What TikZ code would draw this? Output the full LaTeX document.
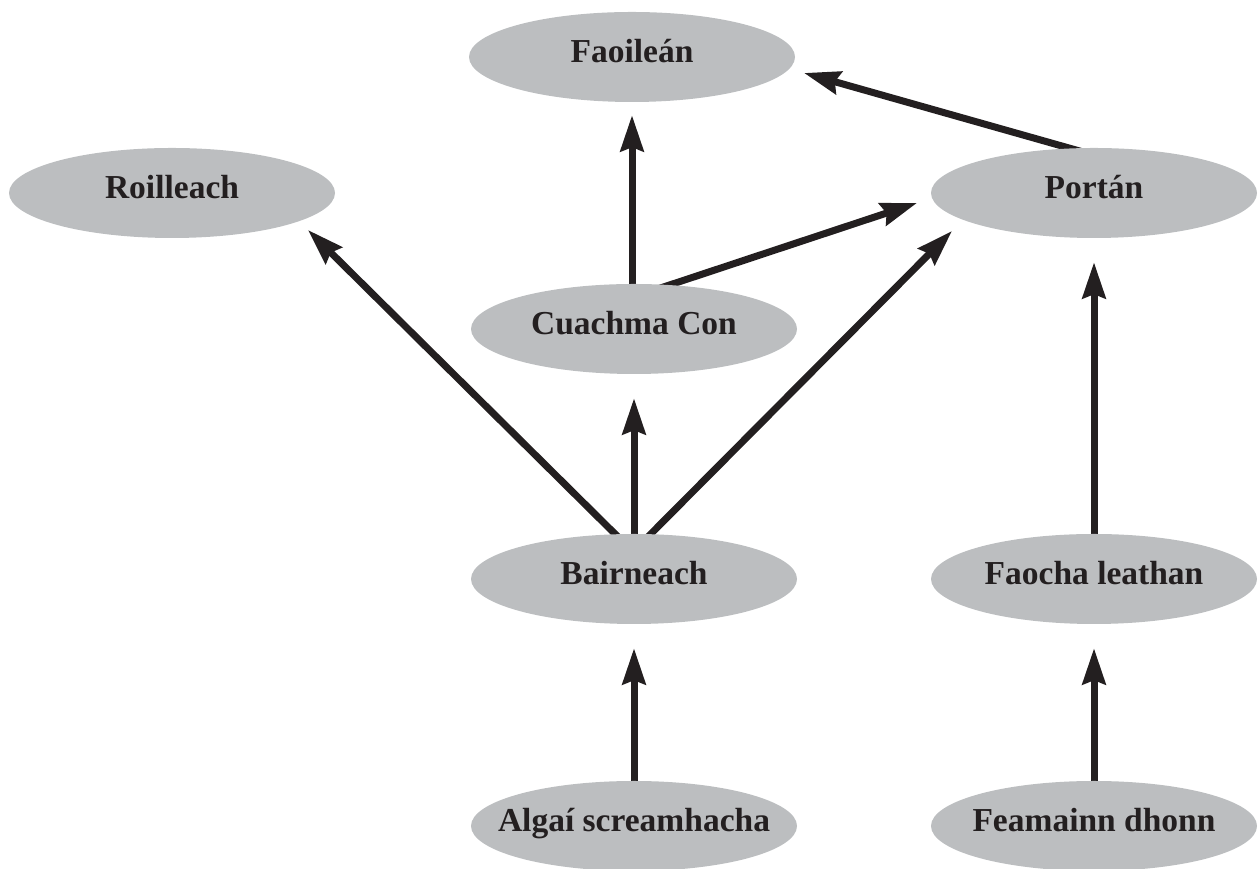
\documentclass[tikz,border=0pt]{standalone}
\usepackage{fontspec}
\setmainfont{Liberation Serif}
\usetikzlibrary{shapes.geometric,arrows.meta,backgrounds}
\definecolor{ellgray}{HTML}{BCBEC0}
\definecolor{ink}{HTML}{231F20}
\tikzset{
  ell/.style={ellipse, fill=ellgray, draw=none, minimum width=326pt, minimum height=90pt, inner sep=0pt},
  txt/.style={anchor=base, text=ink, font=\fontsize{33.5}{36}\selectfont\bfseries, inner sep=0pt},
  arr/.style={draw=ink, line width=7pt, -{Stealth[length=36pt,width=23pt,inset=4pt]}}
}
\begin{document}
\begin{tikzpicture}[x=1pt,y=1pt]
\useasboundingbox (0,0) rectangle (1259,869);
% ellipses
\node[ell] (fa) at (632,812) {};
\node[ell] (ro) at (172,676) {};
\node[ell] (po) at (1094,676) {};
\node[ell] (cc) at (634,540) {};
\node[ell] (ba) at (634,290) {};
\node[ell] (fl) at (1094,290) {};
\node[ell] (al) at (634,43) {};
\node[ell] (fd) at (1094,43) {};
% texts
\node[txt] (fa-t) at ([yshift=-6pt]fa.center) {Faoileán};
\node[txt] (ro-t) at ([yshift=-6pt]ro.center) {Roilleach};
\node[txt] (po-t) at ([yshift=-6pt]po.center) {Portán};
\node[txt] (cc-t) at ([yshift=-6pt]cc.center) {Cuachma Con};
\node[txt] (ba-t) at ([yshift=-6pt]ba.center) {Bairneach};
\node[txt] (fl-t) at ([yshift=-6pt]fl.center) {Faocha leathan};
\node[txt] (al-t) at ([yshift=-6pt]al.center) {Algaí screamhacha};
\node[txt] (fd-t) at ([yshift=-6pt]fd.center) {Feamainn dhonn};
% arrows
\begin{pgfonlayer}{background}
\draw[arr] ([xshift=-2pt,yshift=-10pt]cc.north) -- ([yshift=-13pt]fa.south);
\draw[arr] ([xshift=6pt,yshift=-9pt]po.north) -- ([shift={(172pt,-16pt)}]fa.center);
\draw[arr] ([xshift=6pt,yshift=-11pt]cc.north) -- ([shift={(-177pt,-10pt)}]po.center);
\draw[arr] ([xshift=6pt,yshift=-11pt]ba.north) -- ([shift={(-142pt,-38pt)}]po.center);
\draw[arr] ([xshift=-8pt,yshift=-11pt]ba.north) -- ([shift={(136pt,-37pt)}]ro.center);
\draw[arr] ([yshift=-10pt]ba.north) -- ([yshift=-24pt]cc.south);
\draw[arr] ([yshift=-10pt]fl.north) -- ([yshift=-24pt]po.south);
\draw[arr] ([yshift=-10pt]al.north) -- ([yshift=-24pt]ba.south);
\draw[arr] ([yshift=-10pt]fd.north) -- ([yshift=-24pt]fl.south);
\end{pgfonlayer}
\end{tikzpicture}
\end{document}
